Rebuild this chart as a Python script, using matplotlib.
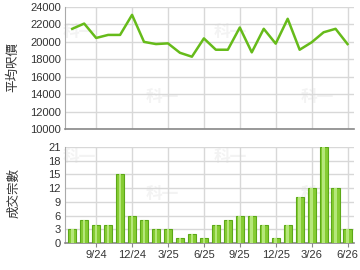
import numpy as np
import matplotlib.pyplot as plt

months = ['7/24', '8/24', '9/24', '10/24', '11/24', '12/24', '1/25', '2/25', '3/25',
          '4/25', '5/25', '6/25', '7/25', '8/25', '9/25', '10/25', '11/25', '12/25',
          '1/26', '2/26', '3/26', '4/26', '5/26', '6/26']
price = [21500, 22100, 20450, 20800, 20800, 23100, 20000, 19750, 19830, 18750,
         18300, 20400, 19100, 19100, 21650, 18800, 21500, 19800, 22650, 19100,
         19950, 21100, 21500, 19750]
deals = [3, 5, 4, 4, 15, 6, 5, 3, 3, 1, 2, 1, 4, 5, 6, 6, 4, 1, 4, 10, 12, 21, 12, 3]
tick_idx = [2, 5, 8, 11, 14, 17, 20, 23]

plt.rcParams['font.family'] = ['Liberation Sans', 'Noto Sans CJK TC', 'DejaVu Sans']

fig = plt.figure(figsize=(3.6, 2.7), dpi=100)
ax1 = fig.add_axes([0.1806, 0.522, 0.8014, 0.452])
ax2 = fig.add_axes([0.1806, 0.1, 0.8014, 0.3556])

x = np.arange(len(months))
grid = '#d8d8d8'

# top: average price
ax1.plot(x, price, color='#66bb1a', lw=1.8, zorder=3)
ax1.set_ylim(10000, 24000)
ax1.set_yticks(range(10000, 24001, 2000))
ax1.set_xlim(-0.6, 23.5)
ax1.set_xticks(tick_idx)
ax1.set_xticklabels([])

# bottom: number of deals
ax2.bar(x, deals, width=0.68, color='#86cc33', edgecolor='#5ca818', lw=0.8, zorder=3)
ax2.bar(x, deals, width=0.22, color='#b5e77a', lw=0, zorder=4)
ax2.set_ylim(0, 21)
ax2.set_yticks(range(0, 22, 3))
ax2.set_xlim(-0.6, 23.5)
ax2.set_xticks(tick_idx)
ax2.set_xticklabels([months[i] for i in tick_idx])

for ax in (ax1, ax2):
    ax.patch.set_visible(False)
    ax.grid(True, color=grid, lw=1)
    ax.set_axisbelow(True)
    ax.tick_params(labelsize=8, labelcolor='#333333', length=0, pad=3)
    for s in ['top', 'right']:
        ax.spines[s].set_visible(False)
    ax.spines['left'].set_color('#aaaaaa')
    ax.spines['bottom'].set_color('#888888')
    ax.spines['bottom'].set_linewidth(1.2)
ax2.tick_params(axis='x', length=3, color='#888888', pad=2)

fig.text(0.036, 0.75, '平均呎價', rotation=90, ha='center', va='center',
         fontsize=9, color='#333333', family=['Noto Sans CJK TC'])
fig.text(0.04, 0.285, '成交宗數', rotation=90, ha='center', va='center',
         fontsize=9, color='#333333', family=['Noto Sans CJK TC'])

# faint watermark, behind the axes
for (wx, wy) in [(0.22, 0.88), (0.45, 0.64), (0.64, 0.88), (0.88, 0.64),
                 (0.22, 0.42), (0.45, 0.28), (0.64, 0.42), (0.88, 0.28)]:
    fig.text(wx, wy, '科一', fontsize=12, fontweight='bold', color='#f3f3f3',
             ha='center', va='center', family=['Noto Sans CJK TC'], zorder=-1)

plt.savefig('out.png', dpi=100)
